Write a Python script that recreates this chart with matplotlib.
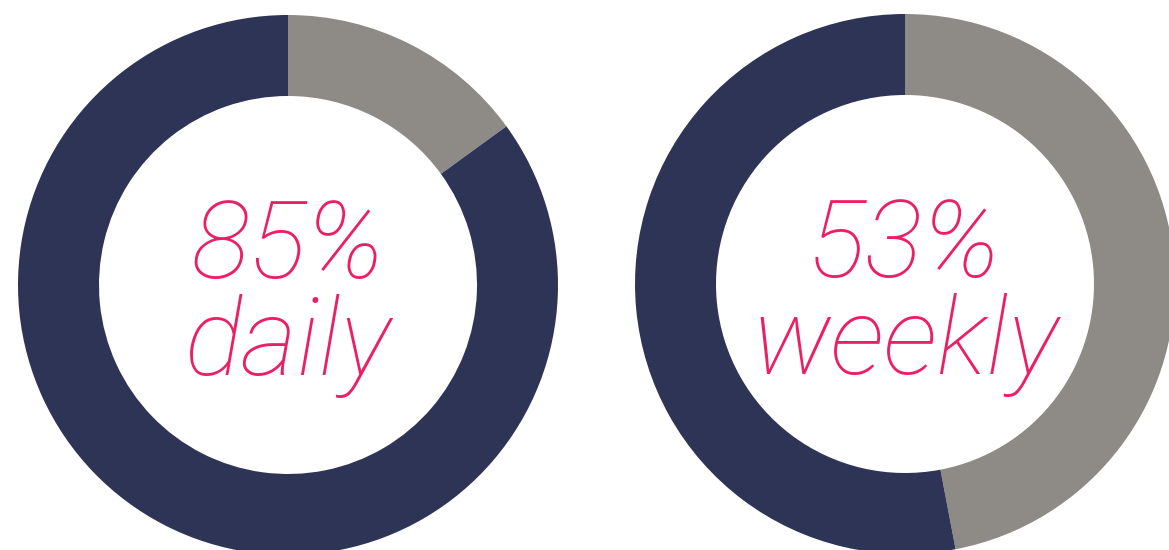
import matplotlib.pyplot as plt

# data
percents = [85, 53]
words = ["daily", "weekly"]

navy = "#2E3456"
grey = "#8E8B86"
pink = "#EC1F65"

fig = plt.figure(figsize=(11.69, 5.5), dpi=100)
ax = fig.add_axes([0, 0, 1, 1])

# donut centres in pixel space (y measured from the bottom)
centres = [(288, 550 - 285), (905, 550 - 284)]
R = 270
width = 81

for (cx, cy), p, w in zip(centres, percents, words):
    # grey share goes clockwise from 12 o'clock, navy fills the rest
    ax.pie([100 - p, p], colors=[grey, navy], startangle=90, counterclock=False,
           center=(cx, cy), radius=R, wedgeprops=dict(width=width, linewidth=0))
    ax.text(cx, cy + 7, f"{p}%", ha="center", va="baseline", color=pink,
            fontsize=78, family="Roboto", style="italic", weight="light")
    ax.text(cx, cy - 90, w, ha="center", va="baseline", color=pink,
            fontsize=78, family="Roboto", style="italic", weight="light")

ax.set_xlim(0, 1169)
ax.set_ylim(0, 550)
ax.set_aspect("auto")
ax.axis("off")

fig.savefig("out.png", dpi=100)
